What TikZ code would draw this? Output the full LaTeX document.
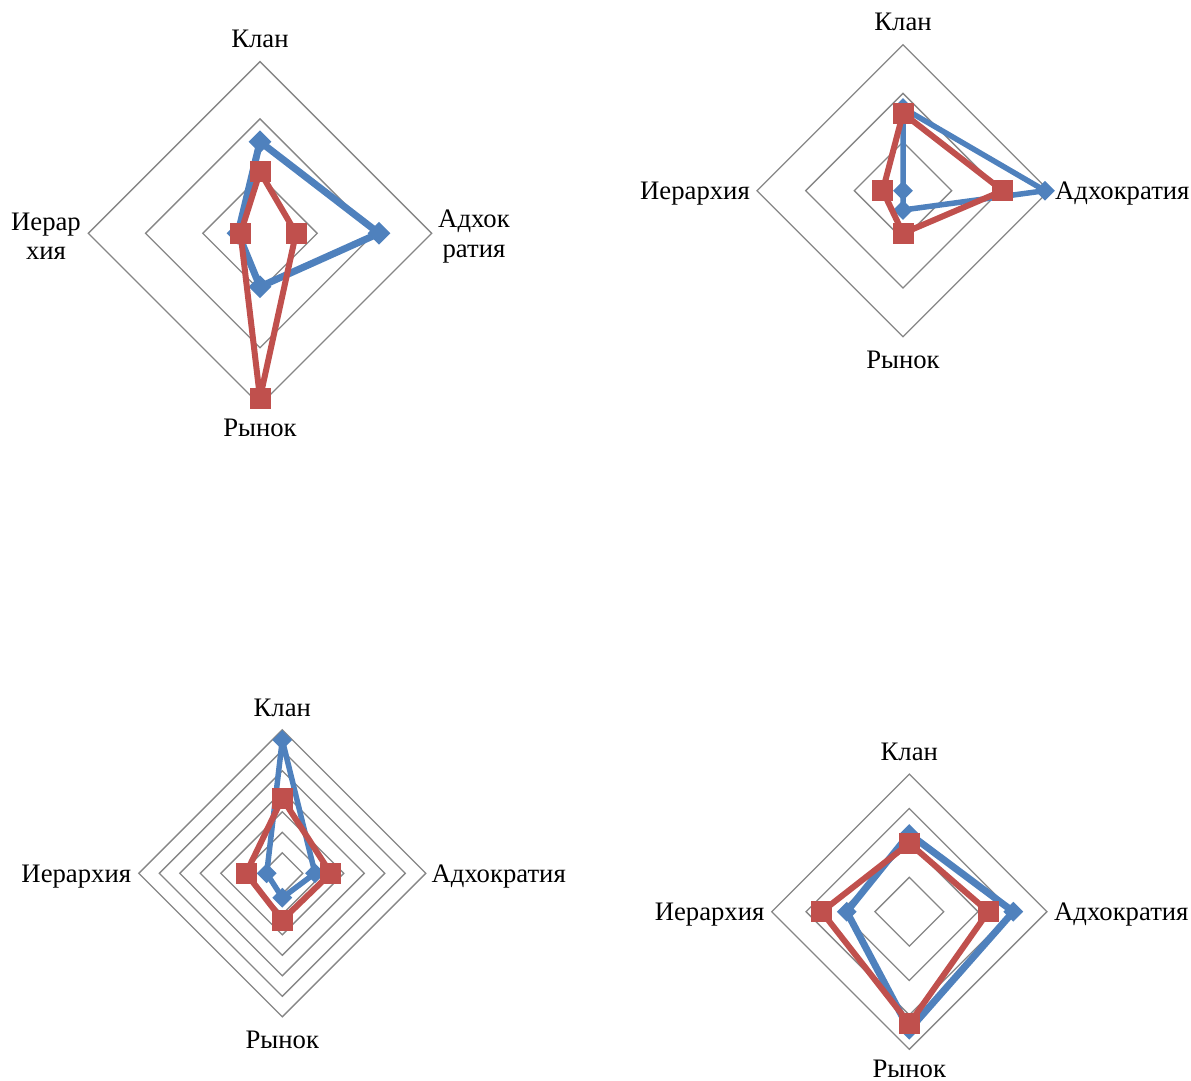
\documentclass[tikz,border=0pt]{standalone}
\usepackage{fontspec}
\setmainfont{Liberation Serif}
\usetikzlibrary{shapes.geometric}
\definecolor{serblue}{HTML}{4F81BD}
\definecolor{serred}{HTML}{C0504D}
\definecolor{gridgray}{HTML}{868686}

\begin{document}
\begin{tikzpicture}[x=1pt, y=1pt,
  ring/.style={draw=gridgray, line width=1.3},
  blueline/.style={draw=serblue, line width=5.5, line join=round},
  redline/.style={draw=serred, line width=6, line join=round},
  bluemark/.style={diamond, aspect=1, fill=serblue, inner sep=0, minimum size=20},
  redmark/.style={rectangle, fill=serred, inner sep=0, minimum size=21},
  axlabel/.style={font=\fontsize{26.7}{29.5}\selectfont, inner sep=0, align=center},
]
\useasboundingbox (0,0) rectangle (1191,-1081);

% top left chart
\begin{scope}[shift={(260,-233.3)}]
\foreach \r in {57.2,114.4,171.7}
  \draw[ring] (0,\r) -- (\r,0) -- (0,-\r) -- (-\r,0) -- cycle;
\coordinate (bKlanA) at (0,91.6);
\coordinate (bAdhA) at (119,0);
\coordinate (bRynA) at (0,-53.4);
\coordinate (bIerA) at (-22,0);
\coordinate (rKlanA) at (0,61.6);
\coordinate (rAdhA) at (36,0);
\coordinate (rRynA) at (0,-164.7);
\coordinate (rIerA) at (-19.5,0);
\draw[blueline, line width=7] (bKlanA) -- (bAdhA) -- (bRynA) -- (bIerA) -- cycle;
\foreach \p in {bKlanA,bAdhA,bRynA,bIerA}
  \node[bluemark, minimum size=23] at (\p) {};
\draw[redline] (rKlanA) -- (rAdhA) -- (rRynA) -- (rIerA) -- cycle;
\foreach \p in {rKlanA,rAdhA,rRynA,rIerA}
  \node[redmark] at (\p) {};
\node[axlabel, anchor=base] (klanA) at (0,185.4) {Клан};
\node[axlabel, anchor=base] (rynokA) at (0,-203) {Рынок};
\node[axlabel] (ierA) at (-214,-3) {Иерар\\хия};
\node[axlabel] (adhA) at (214,-3) {Адхок\\ратия};
\end{scope}

% top right chart
\begin{scope}[shift={(903,-190.7)}]
\foreach \r in {48.7,97.3,146}
  \draw[ring] (0,\r) -- (\r,0) -- (0,-\r) -- (-\r,0) -- cycle;
\coordinate (bKlanB) at (0,82.7);
\coordinate (bAdhB) at (142,0);
\coordinate (bRynB) at (0,-19.3);
\coordinate (bIerB) at (0,0);
\coordinate (rKlanB) at (0,77.4);
\coordinate (rAdhB) at (99.7,0);
\coordinate (rRynB) at (0,-42.6);
\coordinate (rIerB) at (-20.3,0);
\draw[blueline] (bKlanB) -- (bAdhB) -- (bRynB) -- (bIerB) -- cycle;
\foreach \p in {bKlanB,bAdhB,bRynB,bIerB}
  \node[bluemark] at (\p) {};
\draw[redline] (rKlanB) -- (rAdhB) -- (rRynB) -- (rIerB) -- cycle;
\foreach \p in {rKlanB,rAdhB,rRynB,rIerB}
  \node[redmark] at (\p) {};
\node[axlabel, anchor=base] (klanB) at (0,159.7) {Клан};
\node[axlabel, anchor=base] (rynokB) at (0,-177.3) {Рынок};
\node[axlabel, anchor=base east] (ierB) at (-153,-8.8) {Иерархия};
\node[axlabel, anchor=base west] (adhB) at (152,-8.8) {Адхократия};
\end{scope}

% bottom left chart
\begin{scope}[shift={(282.3,-873.3)}]
\foreach \k in {1,...,7}
  \draw[ring] (0,20.5*\k) -- (20.5*\k,0) -- (0,-20.5*\k) -- (-20.5*\k,0) -- cycle;
\coordinate (bKlanC) at (0,133.3);
\coordinate (bAdhC) at (32.7,0);
\coordinate (bRynC) at (0,-24.4);
\coordinate (bIerC) at (-15.6,0);
\coordinate (rKlanC) at (0,75);
\coordinate (rAdhC) at (48.4,0);
\coordinate (rRynC) at (0,-46.7);
\coordinate (rIerC) at (-36.3,0);
\draw[blueline] (bKlanC) -- (bAdhC) -- (bRynC) -- (bIerC) -- cycle;
\foreach \p in {bKlanC,bAdhC,bRynC,bIerC}
  \node[bluemark] at (\p) {};
\draw[redline] (rKlanC) -- (rAdhC) -- (rRynC) -- (rIerC) -- cycle;
\foreach \p in {rKlanC,rAdhC,rRynC,rIerC}
  \node[redmark] at (\p) {};
\node[axlabel, anchor=base] (klanC) at (0,157.2) {Клан};
\node[axlabel, anchor=base] (rynokC) at (0,-174.8) {Рынок};
\node[axlabel, anchor=base east] (ierC) at (-151,-8.8) {Иерархия};
\node[axlabel, anchor=base west] (adhC) at (149,-8.8) {Адхократия};
\end{scope}

% bottom right chart
\begin{scope}[shift={(909.3,-911.7)}]
\foreach \k in {1,...,4}
  \draw[ring] (0,34.4*\k) -- (34.4*\k,0) -- (0,-34.4*\k) -- (-34.4*\k,0) -- cycle;
\coordinate (bKlanD) at (0,77.7);
\coordinate (bAdhD) at (104,0);
\coordinate (bRynD) at (0,-118);
\coordinate (bIerD) at (-62.6,0);
\coordinate (rKlanD) at (0,68.4);
\coordinate (rAdhD) at (79,0);
\coordinate (rRynD) at (0,-112);
\coordinate (rIerD) at (-87.6,0);
\draw[blueline, line width=7] (bKlanD) -- (bAdhD) -- (bRynD) -- (bIerD) -- cycle;
\foreach \p in {bKlanD,bAdhD,bRynD,bIerD}
  \node[bluemark] at (\p) {};
\draw[redline] (rKlanD) -- (rAdhD) -- (rRynD) -- (rIerD) -- cycle;
\foreach \p in {rKlanD,rAdhD,rRynD,rIerD}
  \node[redmark] at (\p) {};
\node[axlabel, anchor=base] (klanD) at (0,151.4) {Клан};
\node[axlabel, anchor=base] (rynokD) at (0,-166.2) {Рынок};
\node[axlabel, anchor=base east] (ierD) at (-144.7,-8.8) {Иерархия};
\node[axlabel, anchor=base west] (adhD) at (144.7,-8.8) {Адхократия};
\end{scope}
\end{tikzpicture}
\end{document}
